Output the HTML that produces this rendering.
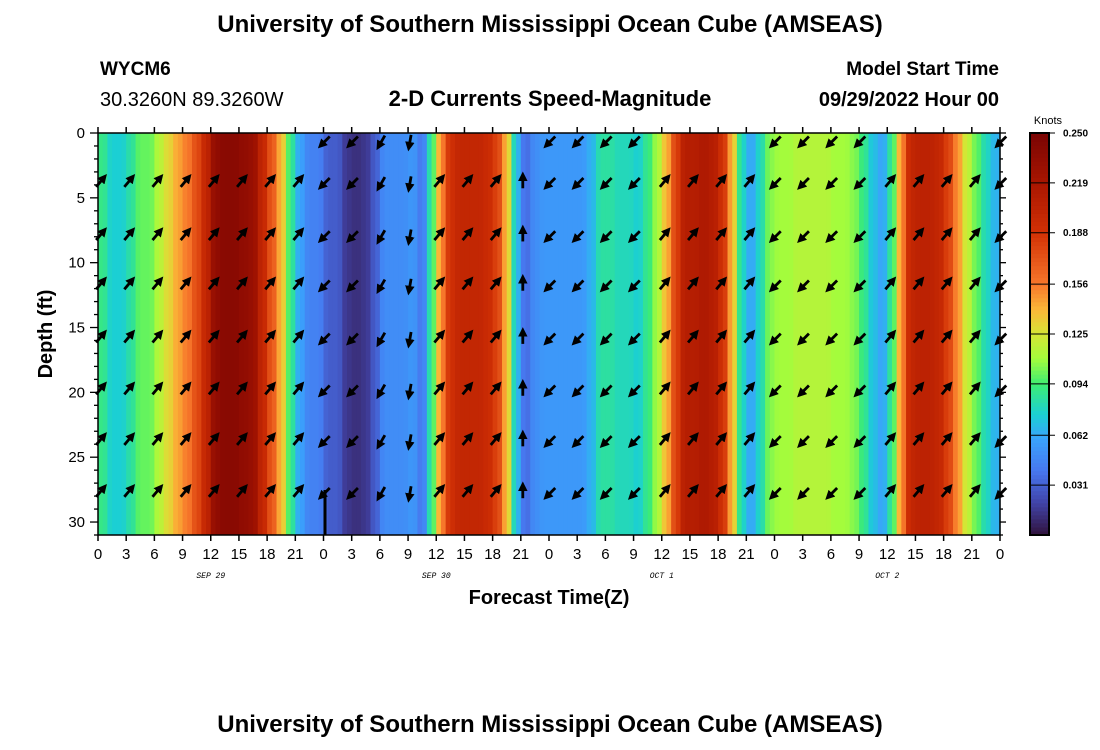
<!DOCTYPE html>
<html><head><meta charset="utf-8"><style>
body{margin:0;background:#fff;}
svg{display:block;font-family:"Liberation Sans",Arial,sans-serif;}
</style></head><body>
<svg id="chart" width="1100" height="750" viewBox="0 0 1100 750" xmlns="http://www.w3.org/2000/svg">
<defs>
<marker id="ah" viewBox="0 0 10 10" refX="5" refY="5" markerWidth="3.4" markerHeight="3.4" orient="auto"><path d="M0,0 L10,5 L0,10 z" fill="#000"/></marker>
</defs>
<text x="550" y="32" text-anchor="middle" font-size="24" font-weight="bold">University of Southern Mississippi Ocean Cube (AMSEAS)</text>
<text x="100" y="75" font-size="19" font-weight="bold">WYCM6</text>
<text x="100" y="106" font-size="20">30.3260N  89.3260W</text>
<text x="550" y="106" text-anchor="middle" font-size="22" font-weight="bold">2-D Currents Speed-Magnitude</text>
<text x="999" y="75" text-anchor="end" font-size="19" font-weight="bold">Model Start Time</text>
<text x="999" y="106" text-anchor="end" font-size="20" font-weight="bold">09/29/2022 Hour 00</text>
<g id="heat"></g>
<g id="arrows"></g>
<g id="axes"></g>
<text transform="translate(52,334) rotate(-90)" text-anchor="middle" font-size="20" font-weight="bold">Depth (ft)</text>
<text x="549" y="604" text-anchor="middle" font-size="20" font-weight="bold">Forecast Time(Z)</text>
<g id="cbar"></g>
<text x="1048" y="124" text-anchor="middle" font-size="11">Knots</text>
<text x="550" y="732" text-anchor="middle" font-size="24" font-weight="bold">University of Southern Mississippi Ocean Cube (AMSEAS)</text>
</svg>
<script>
const speeds=[0.09,0.075,0.075,0.085,0.1,0.1,0.115,0.13,0.145,0.155,0.175,0.2,0.235,0.24,0.24,0.235,0.23,0.2,0.17,0.14,0.09,0.06,0.045,0.045,0.03,0.03,0.015,0.012,0.015,0.03,0.05,0.05,0.05,0.055,0.04,0.09,0.15,0.19,0.2,0.2,0.2,0.195,0.18,0.14,0.07,0.035,0.05,0.055,0.055,0.055,0.055,0.055,0.065,0.085,0.085,0.08,0.08,0.075,0.09,0.11,0.14,0.18,0.21,0.21,0.215,0.21,0.19,0.14,0.08,0.06,0.08,0.105,0.11,0.11,0.115,0.115,0.115,0.115,0.11,0.11,0.105,0.09,0.07,0.06,0.09,0.15,0.2,0.205,0.205,0.2,0.18,0.15,0.12,0.1,0.08,0.065];
const arrowHours=[0,3,6,9,12,15,18,21,24,27,30,33,36,39,42,45,48,51,54,57,60,63,66,69,72,75,78,81,84,87,90,93,96];
const arrowDirs=[40,40,40,40,40,40,40,40,225,225,210,190,40,40,40,0,225,225,225,225,40,40,40,40,225,225,225,225,40,40,40,40,225];
const arrowDepths=[3.8,7.9,11.7,15.8,19.8,23.7,27.7];
const xTicks=[0,3,6,9,12,15,18,21,0,3,6,9,12,15,18,21,0,3,6,9,12,15,18,21,0,3,6,9,12,15,18,21,0];
const yTicks=[0,5,10,15,20,25,30];
const dateLabels=["SEP 29","SEP 30","OCT 1","OCT 2"];
const cbTicks=[0.031,0.062,0.094,0.125,0.156,0.188,0.219,0.250];

const X0=98,X1=1000,Y0=133,Y1=535,HMAX=96,DMAX=31,VMAX=0.25;
const xs=h=>X0+(X1-X0)*h/HMAX;
const ys=d=>Y0+(Y1-Y0)*d/DMAX;
const stops=[[0,"#30123b"],[0.02,"#4143a7"],[0.04,"#4777ef"],[0.06,"#3aa3fc"],[0.075,"#1bcfd4"],[0.094,"#3ded73"],[0.11,"#a4fc3c"],[0.125,"#d5e535"],[0.14,"#fbb938"],[0.156,"#f7772b"],[0.188,"#d23105"],[0.219,"#a91601"],[0.25,"#7a0403"]];
function hx(c){return [1,3,5].map(i=>parseInt(c.substr(i,2),16));}
function cmap(v){v=Math.max(0,Math.min(VMAX,v));for(let i=1;i<stops.length;i++){if(v<=stops[i][0]){const a=stops[i-1],b=stops[i];const t=(v-a[0])/(b[0]-a[0]);const A=hx(a[1]),B=hx(b[1]);return `rgb(${A.map((x,k)=>Math.round(x+(B[k]-x)*t)).join(',')})`;}}return stops[stops.length-1][1];}
const NS="http://www.w3.org/2000/svg";
function mk(tag,attrs,parent){const e=document.createElementNS(NS,tag);for(const k in attrs)e.setAttribute(k,attrs[k]);parent.appendChild(e);return e;}
const heat=document.getElementById('heat');
const SUB=2;
speeds.forEach((s,h)=>{
  for(let k=0;k<SUB;k++){
    const f=(k+0.5)/SUB-0.5;
    const nb=f<0?(speeds[h-1]!==undefined?speeds[h-1]:s):(speeds[h+1]!==undefined?speeds[h+1]:s);
    const v=s+(nb-s)*Math.abs(f)*0.6;
    const r=mk('rect',{x:xs(h+k/SUB),y:Y0,width:xs(h+(k+1)/SUB)-xs(h+k/SUB)+0.6,height:Y1-Y0,fill:cmap(v)},heat);
    
    
  }
});
const ar=document.getElementById('arrows');
arrowHours.forEach((h,i)=>{
  const dir=arrowDirs[i];
  const south=Math.cos(dir*Math.PI/180)<0;
  const depths=south?[0.6].concat(arrowDepths):arrowDepths;
  depths.forEach(d=>{
    const cx=xs(h)+2,cy=ys(d),L=12,a=dir*Math.PI/180;
    const dx=Math.sin(a)*L/2,dy=-Math.cos(a)*L/2;
    const ln=mk('line',{x1:cx-dx,y1:cy-dy,x2:cx+dx,y2:cy+dy,stroke:'#000','stroke-width':2.8,'marker-end':'url(#ah)'},ar);
    
    
  });
});
const ax=document.getElementById('axes');
mk('rect',{x:X0,y:Y0,width:X1-X0,height:Y1-Y0,fill:'none',stroke:'#000','stroke-width':1.5},ax);
mk('line',{x1:325,y1:490,x2:325,y2:Y1,stroke:'#000','stroke-width':3},ax);
xTicks.forEach((t,i)=>{
  const x=xs(i*3);
  mk('line',{x1:x,y1:Y0,x2:x,y2:Y0-6,stroke:'#000','stroke-width':1.5},ax);
  mk('line',{x1:x,y1:Y1,x2:x,y2:Y1+6,stroke:'#000','stroke-width':1.5},ax);
  const tx=mk('text',{x:x,y:Y1+24,'text-anchor':'middle','font-size':15},ax);tx.textContent=t;
  
  
});
dateLabels.forEach((t,i)=>{
  const tx=mk('text',{x:xs(i*24+12),y:578,'text-anchor':'middle','font-size':8,'font-style':'italic','font-family':'Liberation Mono, monospace'},ax);tx.textContent=t;
  
  
});
for(let d=0;d<=DMAX;d++){
  const y=ys(d),maj=d%5===0;
  mk('line',{x1:X0-(maj?8:4),y1:y,x2:X0,y2:y,stroke:'#000','stroke-width':1.3},ax);
  mk('line',{x1:X1,y1:y,x2:X1+(maj?6:3),y2:y,stroke:'#000','stroke-width':1.3},ax);
}
yTicks.forEach(t=>{
  const tx=mk('text',{x:X0-13,y:ys(t)+5,'text-anchor':'end','font-size':15},ax);tx.textContent=t;
  
  
});
const cb=document.getElementById('cbar');
const CX=1030,CW=19,CT=133,CB=535;
const cy=v=>CB-(CB-CT)*v/VMAX;
for(let i=0;i<100;i++){
  const v0=VMAX*i/100,v1=VMAX*(i+1)/100;
  mk('rect',{x:CX,y:cy(v1),width:CW,height:cy(v0)-cy(v1)+0.5,fill:cmap((v0+v1)/2)},cb);
}
mk('rect',{x:CX,y:CT,width:CW,height:CB-CT,fill:'none',stroke:'#000','stroke-width':2},cb);
cbTicks.forEach(t=>{
  const y=cy(t);
  mk('line',{x1:CX,y1:y,x2:CX+CW+6,y2:y,stroke:'#000','stroke-width':1},cb);
  const tx=mk('text',{x:CX+CW+14,y:y+3.5,'font-size':10,'font-weight':'bold'},cb);tx.textContent=t.toFixed(3);
  
  
});
</script>
</body></html>
